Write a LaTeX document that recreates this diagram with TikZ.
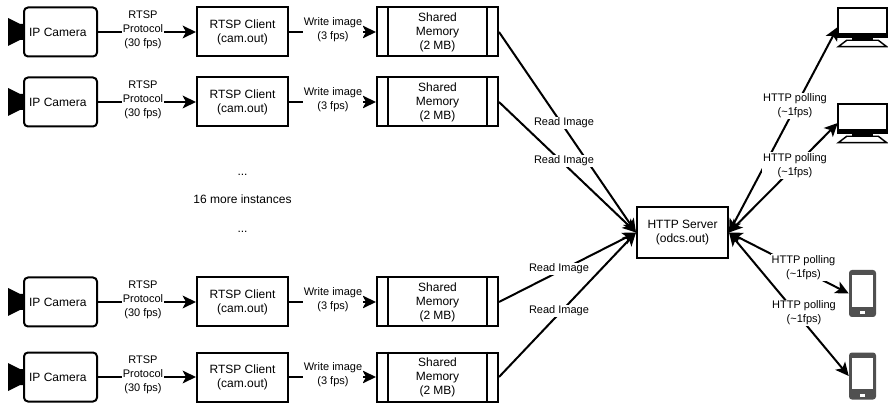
\documentclass[tikz,border=0pt]{standalone}
\usepackage{fontspec}
\setmainfont{Liberation Sans}
\usetikzlibrary{arrows.meta}
\definecolor{phonegray}{HTML}{505050}
\tikzset{
  box/.style={draw,line width=1.5pt,minimum height=36.75pt,align=center,inner sep=0pt,
    font=\fontsize{9}{10.5}\selectfont},
  camerabox/.style={box,rounded corners=3pt,minimum width=54.75pt},
  clientbox/.style={box,minimum width=68.25pt},
  membox/.style={box,minimum width=90.75pt},
  serverbox/.style={box,minimum width=68.25pt,minimum height=38.25pt},
  link/.style={line width=1.5pt,-{Stealth[length=10pt,width=9.5pt,inset=2.5pt]}},
  twolink/.style={line width=1.5pt,{Stealth[length=10pt,width=9.5pt,inset=2.5pt]}-{Stealth[length=10pt,width=9.5pt,inset=2.5pt]}},
  lbl/.style={fill=white,align=center,inner sep=0.8pt,font=\fontsize{8.25}{10.5}\selectfont},
  plain/.style={align=center,font=\fontsize{9}{10.5}\selectfont},
  iconbox/.style={inner sep=0pt,minimum width=36.75pt,minimum height=30pt},
  phonebox/.style={inner sep=0pt,minimum width=20.25pt,minimum height=35.25pt}
}
\newcommand{\pcicon}[2]{%
  \node[iconbox] (#1) at #2 {};
  \draw[line width=1.5pt,fill=white] ([yshift=-0.6pt]#1.north west) rectangle ([yshift=7.5pt]#1.south east);
  \fill ([yshift=10.5pt]#1.south west) rectangle ([yshift=6.75pt]#1.south east);
  \draw[line width=1.1pt,fill=white] ([xshift=6.75pt,yshift=5.25pt]#1.south west) -- ([xshift=0.4pt,yshift=0.4pt]#1.south west)
    -- ([xshift=-0.4pt,yshift=0.4pt]#1.south east) -- ([xshift=-6.75pt,yshift=5.25pt]#1.south east) -- cycle;
  \fill ([xshift=10.5pt,yshift=8.25pt]#1.south west) rectangle ([xshift=-10.5pt,yshift=4.5pt]#1.south east);
}
\newcommand{\phoneicon}[2]{%
  \node[phonebox,fill=phonegray,rounded corners=2.2pt] (#1) at #2 {};
  \fill[white] ([xshift=2.6pt,yshift=-4.2pt]#1.north west) rectangle ([xshift=-2.6pt,yshift=8pt]#1.south east);
  \fill[white] ([xshift=-2pt,yshift=2.4pt]#1.south) rectangle ([xshift=2pt,yshift=4.6pt]#1.south);
}
\begin{document}
\begin{tikzpicture}[x=0.75pt,y=-0.75pt]
\useasboundingbox (0,0) rectangle (888,409);

\node[serverbox] (server) at (682.5,232.5) {HTTP Server\\(odcs.out)};

\foreach \i/\y in {1/32,2/102,3/302,4/377}{
  \fill (8,\y-14) -- (20,\y-8) -- (24,\y-8) -- (24,\y+8) -- (20,\y+8) -- (8,\y+14) -- cycle;
  \node[camerabox] (cam\i) at (60.5,\y) {IP Camera\hspace*{4pt}};
  \node[clientbox] (client\i) at (242.5,\y) {RTSP Client\\(cam.out)};
  \node[membox] (mem\i) at (437.5,\y) {Shared\\Memory\\(2 MB)};
  \draw[line width=1.5pt] ([xshift=9pt]mem\i.north west) -- ([xshift=9pt]mem\i.south west);
  \draw[line width=1.5pt] ([xshift=-9pt]mem\i.north east) -- ([xshift=-9pt]mem\i.south east);
  \draw[link] (cam\i) -- (client\i);
  \draw[link] (client\i) -- (mem\i);
  \draw[link] (mem\i.east) -- (server.west);
  \node[lbl] (rtsp\i) at (143,\y-2) {RTSP\\Protocol\\(30 fps)};
  \node[lbl] (write\i) at (333,\y-2) {Write image\\(3 fps)};
}

\pcicon{pc1}{(862.5,27)}
\pcicon{pc2}{(862.5,123)}
\phoneicon{phone1}{(862.5,293.5)}
\phoneicon{phone2}{(862.5,376)}

\draw[twolink] (server.east) -- (pc1.west);
\draw[twolink] (server.east) -- (pc2.west);
\draw[twolink] (server.east) -- (phone1.west);
\draw[twolink] (server.east) -- (phone2.west);

\node[lbl] (read1) at (564,123) {Read Image};
\node[lbl] (read2) at (564,161) {Read Image};
\node[lbl] (read3) at (559,269) {Read Image};
\node[lbl] (read4) at (559,311) {Read Image};

\node[lbl] (poll1) at (795,106) {HTTP polling\\(\textasciitilde1fps)};
\node[lbl] (poll2) at (795,165.5) {HTTP polling\\(\textasciitilde1fps)};
\node[lbl] (poll3) at (803.5,267.5) {HTTP polling\\(\textasciitilde1fps)};
\node[lbl] (poll4) at (804,313) {HTTP polling\\(\textasciitilde1fps)};

\node[plain] (dots1) at (242.5,174.5) {...};
\node[plain] (more) at (242.5,199) {16 more instances};
\node[plain] (dots2) at (242.5,231.5) {...};
\end{tikzpicture}
\end{document}
